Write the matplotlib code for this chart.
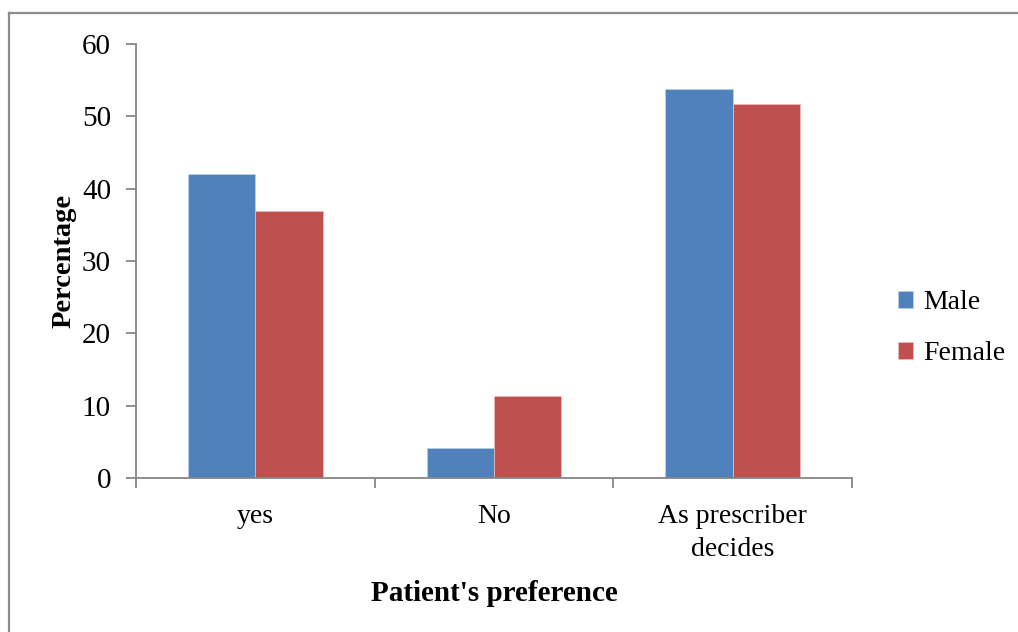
import numpy as np
import matplotlib.pyplot as plt
from matplotlib.lines import Line2D

categories = ["yes", "No", "As prescriber\ndecides"]
male = [42.0, 4.1, 53.8]
female = [36.9, 11.3, 51.7]

plt.rcParams["font.family"] = ["Liberation Serif", "DejaVu Serif"]

fig = plt.figure(figsize=(10.18, 6.32), dpi=100)
ax = fig.add_axes([0.1336, 0.2437, 0.7033, 0.6867])

x = np.arange(len(categories))
w = 0.2825
ax.bar(x - w / 2, male, w, color="#4F81BD", edgecolor="#B9CDE5", linewidth=0.6, label="Male")
ax.bar(x + w / 2, female, w, color="#C0504D", edgecolor="#E6B9B8", linewidth=0.6, label="Female")

ax.set_xlim(-0.5, len(categories) - 0.5)
ax.set_ylim(0, 60)
ax.set_yticks(range(0, 61, 10))
ax.set_xticks(np.arange(-0.5, len(categories), 1.0))
ax.set_xticklabels([])
ax.set_xticks(x, minor=True)
ax.set_xticklabels(categories, minor=True, fontsize=20, linespacing=1.42)
ax.tick_params(axis="x", which="minor", length=0, pad=19)
ax.tick_params(axis="x", which="major", length=7, color="#868686", width=1.3)
ax.tick_params(axis="y", length=7, color="#868686", width=1.3, labelsize=21, pad=11)

for s in ["top", "right"]:
    ax.spines[s].set_visible(False)
for s in ["left", "bottom"]:
    ax.spines[s].set_color("#868686")
    ax.spines[s].set_linewidth(1.3)

ax.set_ylabel("Percentage", fontsize=20.5, fontweight="bold")
ax.yaxis.set_label_coords(-0.083, 0.5)
ax.set_xlabel("Patient's preference", fontsize=21, fontweight="bold")
ax.xaxis.set_label_coords(0.5, -0.234)

ax.legend(loc="center left", bbox_to_anchor=(1.029, 0.345), frameon=False,
          fontsize=20, handlelength=0.55, handleheight=0.55, handletextpad=0.35,
          labelspacing=0.95)

# outer frame (top and left edges)
fig.add_artist(Line2D([9 / 1018, 9 / 1018], [0, 1 - 13 / 632], transform=fig.transFigure,
                      color="#8C8C8C", linewidth=1.6))
fig.add_artist(Line2D([9 / 1018, 1], [1 - 13 / 632, 1 - 13 / 632], transform=fig.transFigure,
                      color="#8C8C8C", linewidth=1.6))

fig.savefig("out.png", dpi=100, facecolor="white")
